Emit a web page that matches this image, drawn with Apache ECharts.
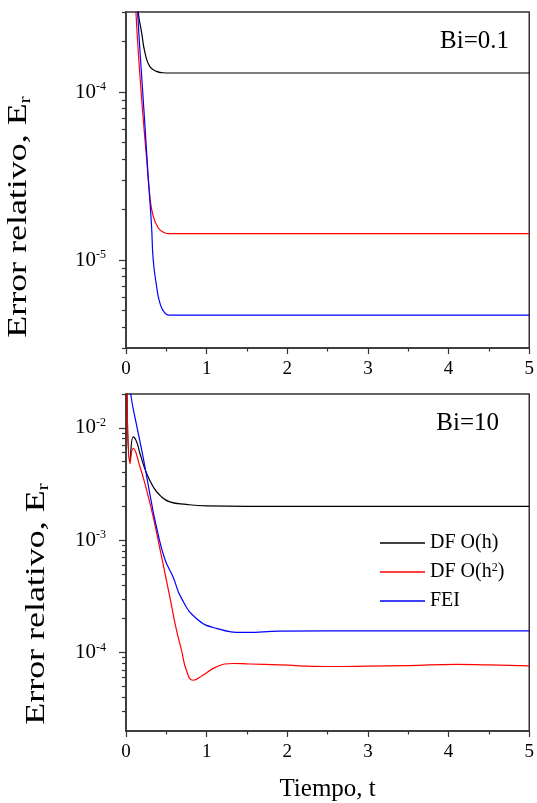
<!DOCTYPE html>
<html>
<head>
<meta charset="utf-8">
<script src="https://cdn.jsdelivr.net/npm/echarts@6/dist/echarts.min.js"></script>
<style>html,body{margin:0;padding:0;background:#fff}#c{width:537px;height:803px}</style>
</head>
<body>
<div id="c"></div>
<script>
// ---------- data ----------
const seriesNames = ['DF O(h)', 'DF O(h²)', 'FEI'];
const panelLabels = ['Bi=0.1', 'Bi=10'];
const xTickValues = [0, 1, 2, 3, 4, 5];

// Bi = 0.1
const tTopH  = [0.12, 0.152, 0.194, 0.235, 0.296, 0.379, 0.457, 0.55, 0.8, 1.5, 2.5, 3.5, 4.5, 5];
const eTopH  = [5e-4, 3.0e-4, 2.26e-4, 1.72e-4, 1.42e-4, 1.33e-4, 1.305e-4, 1.3e-4, 1.3e-4, 1.3e-4, 1.3e-4, 1.3e-4, 1.3e-4, 1.3e-4];
const tTopH2 = [0.10, 0.123, 0.173, 0.214, 0.256, 0.296, 0.337, 0.399, 0.46, 0.52, 0.7, 1.5, 2.5, 3.5, 4.5, 5];
const eTopH2 = [6e-4, 3.0e-4, 1.25e-4, 6.9e-5, 4.0e-5, 2.4e-5, 1.83e-5, 1.56e-5, 1.47e-5, 1.44e-5, 1.44e-5, 1.44e-5, 1.44e-5, 1.44e-5, 1.44e-5, 1.44e-5];
const tTopF  = [0.11, 0.144, 0.194, 0.235, 0.275, 0.317, 0.337, 0.379, 0.42, 0.481, 0.564, 0.8, 1.5, 2.5, 3.5, 4.5, 5];
const eTopF  = [7e-4, 3.0e-4, 1.25e-4, 6.3e-5, 3.16e-5, 1.59e-5, 1.01e-5, 7.0e-6, 5.57e-6, 4.86e-6, 4.71e-6, 4.71e-6, 4.71e-6, 4.71e-6, 4.71e-6, 4.71e-6, 4.71e-6];

// Bi = 10
const tBotH  = [0.01, 0.05, 0.09, 0.132, 0.173, 0.256, 0.337, 0.42, 0.543, 0.749, 1.0, 1.5, 2, 3, 4, 5];
const eBotH  = [3e-2, 5.0e-3, 8.3e-3, 7.5e-3, 5.91e-3, 3.93e-3, 2.99e-3, 2.51e-3, 2.19e-3, 2.08e-3, 2.02e-3, 2.0e-3, 2.0e-3, 2.0e-3, 2.0e-3, 2.0e-3];
const tBotH2 = [0.01, 0.05, 0.09, 0.173, 0.256, 0.337, 0.42, 0.543, 0.626, 0.688, 0.749, 0.831, 0.954, 1.12, 1.325, 1.53, 1.9, 2.5, 3.0, 3.5, 4.1, 4.5, 5];
const eBotH2 = [3e-2, 4.8e-3, 6.55e-3, 4.5e-3, 2.79e-3, 1.61e-3, 8.4e-4, 3.13e-4, 1.58e-4, 1.05e-4, 6.95e-5, 5.66e-5, 6.28e-5, 7.45e-5, 7.98e-5, 7.9e-5, 7.75e-5, 7.5e-5, 7.55e-5, 7.65e-5, 7.85e-5, 7.75e-5, 7.6e-5];
const tBotF  = [0.04, 0.058, 0.132, 0.214, 0.31, 0.379, 0.481, 0.584, 0.688, 0.873, 1.119, 1.49, 1.9, 2.5, 3, 4, 5];
const eBotF  = [3e-2, 2.0e-2, 1.05e-2, 5.4e-3, 2.27e-3, 1.3e-3, 6.8e-4, 4.7e-4, 3.03e-4, 2.01e-4, 1.64e-4, 1.51e-4, 1.55e-4, 1.56e-4, 1.56e-4, 1.56e-4, 1.56e-4];

// axis ranges / ticks
const yRangeTop = [3e-6, 3e-4];
const yRangeBot = [2e-5, 2e-2];
const yMajorTop = [1e-5, 1e-4];
const yMinorTop = [3e-6, 4e-6, 5e-6, 6e-6, 7e-6, 8e-6, 9e-6, 2e-5, 3e-5, 4e-5, 5e-5, 6e-5, 7e-5, 8e-5, 9e-5, 2e-4, 3e-4];
const yMajorBot = [1e-4, 1e-3, 1e-2];
const yMinorBot = [3e-5, 4e-5, 5e-5, 6e-5, 7e-5, 8e-5, 9e-5, 2e-4, 3e-4, 4e-4, 5e-4, 6e-4, 7e-4, 8e-4, 9e-4, 2e-3, 3e-3, 4e-3, 5e-3, 6e-3, 7e-3, 8e-3, 9e-3, 2e-2];

// ---------- chart ----------
const FONT = "'Liberation Serif', 'Times New Roman', serif";
const AX = '#333';
const COLORS = ['#000000', '#ff0000', '#0000ff'];
const pairs = (t, e) => t.map((v, i) => [v, e[i]]);

function xAx(gi, withName) {
  const a = {
    type: 'value', gridIndex: gi, min: 0, max: 5, interval: 1,
    axisLine: { show: true, lineStyle: { color: AX, width: 1.5 } },
    axisTick: { show: true, inside: false, length: 6, lineStyle: { color: AX, width: 1.2 } },
    minorTick: { show: true, splitNumber: 2, length: 3.5, lineStyle: { color: AX, width: 1.2 } },
    axisLabel: { fontSize: 19, fontFamily: FONT, color: '#000', margin: 12 },
    splitLine: { show: false }
  };
  if (withName) {
    a.name = 'Tiempo, t';
    a.nameLocation = 'middle';
    a.nameGap = 46;
    a.nameTextStyle = { fontSize: 25, fontFamily: FONT, color: '#000' };
  }
  return a;
}
function yMajor(gi, range, ticks) {
  return {
    type: 'log', logBase: 10, gridIndex: gi, position: 'left', offset: 0, min: range[0], max: range[1],
    axisLine: { show: true, lineStyle: { color: AX, width: 1.5 } },
    axisTick: { show: true, inside: false, length: 7, customValues: ticks, lineStyle: { color: AX, width: 1.2 } },
    axisLabel: {
      customValues: ticks, margin: 20,
      formatter: v => '{b|10}{s|' + Math.round(Math.log10(v)) + '}',
      rich: {
        b: { fontSize: 21, fontFamily: FONT, color: '#000', lineHeight: 22 },
        s: { fontSize: 12, fontFamily: FONT, color: '#000', lineHeight: 12, verticalAlign: 'top' }
      }
    },
    splitLine: { show: false }
  };
}
function yMinor(gi, range, ticks) {
  return {
    type: 'log', logBase: 10, gridIndex: gi, position: 'left', offset: 0, min: range[0], max: range[1],
    axisLine: { show: false },
    axisTick: { show: true, inside: false, length: 4, customValues: ticks, lineStyle: { color: AX, width: 1.2 } },
    axisLabel: { show: false },
    splitLine: { show: false }
  };
}
function line(name, xi, yi, t, e, ci) {
  return {
    type: 'line', name: name, xAxisIndex: xi, yAxisIndex: yi,
    data: pairs(t, e), showSymbol: false, symbol: 'none',
    smooth: 0.5, clip: true,
    lineStyle: { color: COLORS[ci], width: 1.2 }, itemStyle: { color: COLORS[ci] }
  };
}

const titleRich = {
  a: { fontSize: 27, fontFamily: FONT, color: '#000', lineHeight: 30 },
  s: { fontSize: 16, fontFamily: FONT, color: '#000', lineHeight: 14, verticalAlign: 'bottom' }
};

const option = {
  animation: false,
  backgroundColor: '#fff',
  grid: [
    { left: 126, top: 12, width: 405, height: 336, show: true, borderColor: AX, borderWidth: 1.5, containLabel: false },
    { left: 126, top: 394, width: 405, height: 337, show: true, borderColor: AX, borderWidth: 1.5, containLabel: false }
  ],
  xAxis: [xAx(0, false), xAx(1, true)],
  yAxis: [yMajor(0, yRangeTop, yMajorTop), yMinor(0, yRangeTop, yMinorTop), yMajor(1, yRangeBot, yMajorBot), yMinor(1, yRangeBot, yMinorBot)],
  legend: {
    data: seriesNames, orient: 'vertical', left: 375, top: 528,
    icon: 'rect', itemWidth: 45, itemHeight: 1.5, itemGap: 9,
    formatter: n => n.replace('²', '{sup|2}'),
    textStyle: {
      fontSize: 20, fontFamily: FONT, color: '#000', lineHeight: 20,
      rich: { sup: { fontSize: 12, fontFamily: FONT, color: '#000', lineHeight: 8, verticalAlign: 'top' } }
    }
  },
  graphic: [
    { type: 'text', x: 509, y: 41, style: { text: panelLabels[0], fontSize: 25, fontFamily: FONT, fill: '#000', align: 'right', verticalAlign: 'middle' } },
    { type: 'text', x: 499, y: 423, style: { text: panelLabels[1], fontSize: 25, fontFamily: FONT, fill: '#000', align: 'right', verticalAlign: 'middle' } },
    { type: 'text', x: 19, y: 217, rotation: Math.PI / 2, scaleX: 1.33, style: { text: '{a|Error relativo, E}{s|r}', rich: titleRich, align: 'center', verticalAlign: 'middle' } },
    { type: 'text', x: 37, y: 604, rotation: Math.PI / 2, scaleX: 1.33, style: { text: '{a|Error relativo, E}{s|r}', rich: titleRich, align: 'center', verticalAlign: 'middle' } }
  ],
  series: [
    line(seriesNames[0], 0, 0, tTopH, eTopH, 0),
    line(seriesNames[1], 0, 0, tTopH2, eTopH2, 1),
    line(seriesNames[2], 0, 0, tTopF, eTopF, 2),
    line(seriesNames[0], 1, 2, tBotH, eBotH, 0),
    line(seriesNames[1], 1, 2, tBotH2, eBotH2, 1),
    line(seriesNames[2], 1, 2, tBotF, eBotF, 2)
  ]
};
const chart = echarts.init(document.getElementById('c'), null, { renderer: 'canvas' });
chart.setOption(option);
</script>
</body>
</html>
